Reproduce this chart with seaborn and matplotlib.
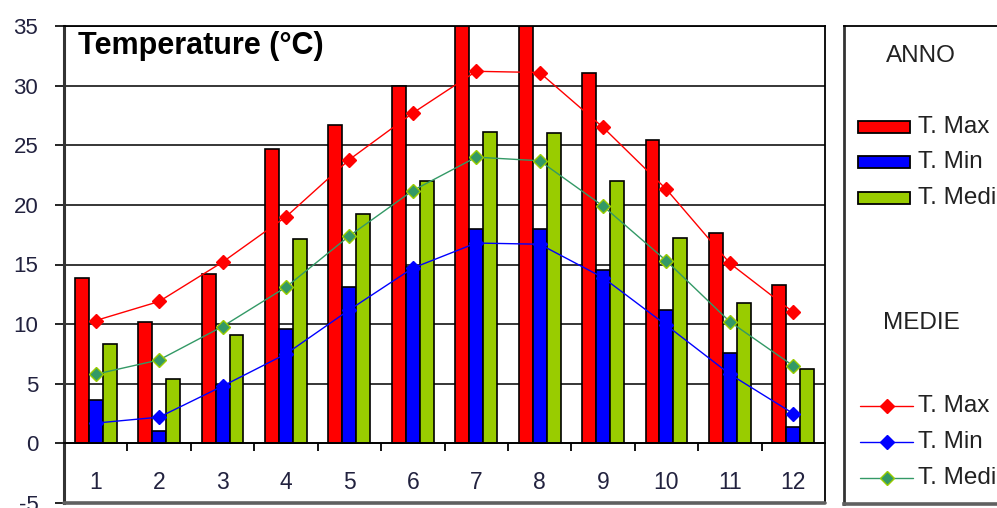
import matplotlib
matplotlib.use("Agg")
import matplotlib.pyplot as plt
import matplotlib.transforms as mtransforms
from matplotlib.patches import Rectangle
from matplotlib.lines import Line2D
import seaborn as sns
import pandas as pd

# ---------------- data ----------------
months = ["1", "2", "3", "4", "5", "6", "7", "8", "9", "10", "11", "12"]
series = ["T. Max", "T. Min", "T. Media"]

# ANNO (bars)
tmax_year = [13.9, 10.2, 14.2, 24.7, 26.7, 30.0, 36.5, 36.5, 31.1, 25.4, 17.6, 13.3]
tmin_year = [3.6, 1.0, 4.9, 9.6, 13.1, 14.8, 18.0, 18.0, 14.5, 11.2, 7.6, 1.4]
tmed_year = [8.3, 5.4, 9.1, 17.1, 19.2, 22.0, 26.1, 26.0, 22.0, 17.2, 11.8, 6.2]

# MEDIE (lines)
tmax_avg = [10.3, 11.9, 15.2, 19.0, 23.8, 27.7, 31.2, 31.1, 26.5, 21.3, 15.1, 11.0]
tmin_avg = [1.7, 2.2, 4.8, 7.5, 11.2, 14.7, 16.8, 16.7, 13.9, 9.9, 5.8, 2.5]
tmed_avg = [5.8, 7.0, 9.8, 13.1, 17.4, 21.2, 24.0, 23.7, 19.9, 15.3, 10.2, 6.5]

yticks = [-5, 0, 5, 10, 15, 20, 25, 30, 35]
title = "Temperature (°C)"

bar_colors = ["#ff0000", "#0000ff", "#99cc00"]
line_colors = ["#ff0000", "#0000ff", "#339966"]
line_edges = ["#ff0000", "#0000ff", "#99cc00"]

bars_df = pd.DataFrame({
    "Mese": months * 3,
    "Serie": [series[0]] * 12 + [series[1]] * 12 + [series[2]] * 12,
    "Temp": tmax_year + tmin_year + tmed_year,
})
avg_lists = [tmax_avg, tmin_avg, tmed_avg]

# ---------------- figure ----------------
sns.set_theme(style="white")
plt.rcParams["font.family"] = ["Liberation Sans", "DejaVu Sans"]

W, H = 997, 508
fig = plt.figure(figsize=(W / 100, H / 100), dpi=100)
px_l, px_r, px_t, px_b = 64, 825, 26, 503
ax = fig.add_axes([px_l / W, 1 - px_b / H, (px_r - px_l) / W, (px_b - px_t) / H])

sns.barplot(data=bars_df, x="Mese", y="Temp", hue="Serie", order=months,
            hue_order=series, palette=bar_colors, saturation=1, width=0.66,
            gap=0, edgecolor="black", linewidth=1.2, errorbar=None,
            legend=False, ax=ax)

for vals, c, ec in zip(avg_lists, line_colors, line_edges):
    df = pd.DataFrame({"Mese": months, "Temp": vals})
    n0 = len(ax.lines)
    sns.pointplot(data=df, x="Mese", y="Temp", order=months, color=c,
                  markers="D", errorbar=None, ax=ax)
    for ln in ax.lines[n0:]:
        ln.set_linewidth(1.0)
        ln.set_markersize(7.5)
        ln.set_markerfacecolor(c)
        ln.set_markeredgecolor(ec)
        ln.set_markeredgewidth(1.0)
        ln.set_zorder(4)

ax.set_xlim(-0.5, 11.5)
ax.set_ylim(-5, 35)
ax.set_yticks(yticks)
ax.set_yticklabels([str(v) for v in yticks])
ax.set_xlabel("")
ax.set_ylabel("")
ax.set_axisbelow(True)
ax.grid(axis="y", color="black", linewidth=1.1)
ax.grid(axis="x", visible=False)

ax.spines["bottom"].set_position(("data", 0))
ax.spines["bottom"].set_color("black")
ax.spines["bottom"].set_linewidth(1.3)
ax.spines["left"].set_color("#333333")
ax.spines["left"].set_linewidth(2.2)
for s in ("top", "right"):
    ax.spines[s].set_color("black")
    ax.spines[s].set_linewidth(1.3)
ax.axhline(-5, color="#606060", linewidth=2.6, clip_on=False, zorder=5)

label_color = "#22223f"
ax.tick_params(axis="y", which="major", direction="out", length=6.5,
               width=1.2, color="black", pad=12, labelsize=16,
               labelcolor=label_color, left=True)
ax.tick_params(axis="x", which="major", length=0, pad=20, labelsize=16.5,
               labelcolor=label_color, bottom=True)
ax.set_xticks([i + 0.5 for i in range(11)], minor=True)
ax.tick_params(axis="x", which="minor", direction="out", length=5.5,
               width=1.3, color="black", bottom=True)

ax.text(0.018, 33.3, title,
        transform=mtransforms.blended_transform_factory(ax.transAxes, ax.transData),
        fontsize=22, fontweight="bold", color="black", va="center", ha="left",
        zorder=6)

# ---------------- legend panel ----------------
lx0, lx1 = 844, 1012
lax = fig.add_axes([lx0 / W, 1 - 504 / H, (lx1 - lx0) / W, (504 - px_t) / H])
lax.set_xlim(lx0, lx1)
lax.set_ylim(504, px_t)
lax.set_xticks([])
lax.set_yticks([])
lax.set_facecolor("white")
lax.spines["left"].set_color("#333333")
lax.spines["left"].set_linewidth(2.0)
lax.spines["top"].set_color("black")
lax.spines["top"].set_linewidth(1.3)
lax.spines["bottom"].set_color("#606060")
lax.spines["bottom"].set_linewidth(2.6)
lax.spines["right"].set_visible(False)

fs_leg = 17.5
lax.text(886, 56, "ANNO", fontsize=fs_leg, color="#222222", va="center", ha="left")
for y, c, name in zip([127, 162, 198], bar_colors, series):
    lax.add_patch(Rectangle((858, y - 6), 52, 12, facecolor=c,
                            edgecolor="black", linewidth=1.3))
    lax.text(918, y, name, fontsize=fs_leg, color="#222222", va="center", ha="left")

lax.text(883, 323, "MEDIE", fontsize=fs_leg, color="#222222", va="center", ha="left")
for y, c, ec, name in zip([406, 442, 478], line_colors, line_edges, series):
    lax.add_line(Line2D([860, 913], [y, y], color=c, linewidth=1.0))
    lax.add_line(Line2D([886.5], [y], color=c, marker="D", markersize=7.5,
                        markerfacecolor=c, markeredgecolor=ec, markeredgewidth=1.0))
    lax.text(918, y, name, fontsize=fs_leg, color="#222222", va="center", ha="left")

fig.savefig("out.png", dpi=100, facecolor="white")
